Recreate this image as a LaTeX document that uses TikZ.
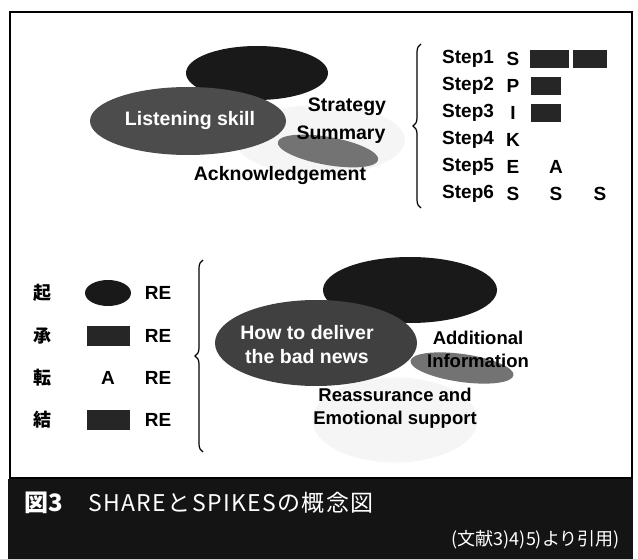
\documentclass[tikz,border=0pt]{standalone}
\usepackage{fontspec}
\setmainfont{Liberation Sans}
\newfontfamily\cjk{Noto Sans CJK JP}
\newfontfamily\cjkwide{Noto Sans CJK JP}[LetterSpace=6]
\usepackage{tikz}
\usetikzlibrary{shapes.geometric, positioning, decorations.pathreplacing}
\tikzset{
  % Blob styles
  blob/.style={ellipse, draw=none, fill=#1, inner sep=0pt},
  blob/.default={black!90},
  haze/.style={ellipse, draw=none, fill=black!4, inner sep=0pt},
  % Text styles
  lbl/.style={font=\fontsize{19.5}{21}\selectfont\bfseries, inner sep=0pt},
  lowlbl/.style={font=\fontsize{18.5}{23}\selectfont\bfseries, inner sep=0pt, align=center},
  steptxt/.style={font=\fontsize{19}{20}\selectfont\bfseries, inner sep=0pt},
  kanji/.style={font=\cjk\bfseries\fontsize{18}{20}\selectfont, inner sep=0pt},
  darkbox/.style={rectangle, fill=black!85, minimum width=#1, minimum height=18pt, inner sep=0pt},
  darkbox/.default={30pt},
  bracket/.style={decorate, decoration={brace, amplitude=8pt}, line width=1.2pt},
}

\begin{document}
\begin{tikzpicture}[x=1pt, y=-1pt]
  \useasboundingbox (0,0) rectangle (638,559);

  % Frame and caption band
  \draw[line width=1.5pt] (10,12) rectangle (632,478);
  \fill[black!92] (8,479) rectangle (633,559);
  \node[font=\cjk\bfseries\fontsize{24}{26}\selectfont, text=white, inner sep=0pt] (fig) at (44,503) {図3};
  \node[font=\cjkwide\fontsize{23}{25}\selectfont, text=white, inner sep=0pt, anchor=west] (title) at (88,503) {SHAREとSPIKESの概念図};
  \node[font=\cjk\fontsize{18}{20}\selectfont, text=white, inner sep=0pt, anchor=east] (src) at (620,540) {(文献3)4)5)より引用)};

  % SPIKES blobs
  \node[blob, minimum width=142pt, minimum height=54pt] (setting) at (257,73) {};
  \node[haze, minimum width=170pt, minimum height=70pt] (hazeA) at (320,140) {};
  \node[blob=black!70, minimum width=196pt, minimum height=68pt] (listen) at (188,121) {};
  \node[blob=black!55, minimum width=102pt, minimum height=28pt, rotate=-10] (summ) at (328,151) {};
  \node[lbl, text=white] (listentxt) at (190,121) {Listening skill};
  \node[lbl] (strategy) at (347,107) {Strategy};
  \node[lbl] (summary) at (341,135) {Summary};
  \node[lbl] (ack) at (280,176) {Acknowledgement};

  % SPIKES steps
  \coordinate (bt) at (421,44);
  \coordinate (bb) at (421,208);
  \draw[bracket] (bb) -- (bt);
  \node[steptxt, anchor=west] (st1) at (442,59) {Step1};
  \node[steptxt, anchor=west] (st2) at (442,86) {Step2};
  \node[steptxt, anchor=west] (st3) at (442,113) {Step3};
  \node[steptxt, anchor=west] (st4) at (442,140) {Step4};
  \node[steptxt, anchor=west] (st5) at (442,167) {Step5};
  \node[steptxt, anchor=west] (st6) at (442,194) {Step6};
  \node[steptxt] (l1) at (513,59) {S};
  \node[steptxt] (l2) at (513,86) {P};
  \node[steptxt] (l3) at (513,113) {I};
  \node[steptxt] (l4) at (513,140) {K};
  \node[steptxt] (l5) at (513,167) {E};
  \node[steptxt] (l6) at (513,194) {S};
  \node[darkbox=39pt] (b1a) at (549,59) {};
  \node[darkbox=34pt] (b1b) at (590,59) {};
  \node[darkbox] (b2) at (546,86) {};
  \node[darkbox] (b3) at (546,113) {};
  \node[steptxt] (a5) at (556,167) {A};
  \node[steptxt] (s6b) at (556,194) {S};
  \node[steptxt] (s6c) at (600,194) {S};

  % SHARE rows
  \node[kanji] (ki) at (42,293) {起};
  \node[kanji] (sho) at (42,336) {承};
  \node[kanji] (ten) at (42,378) {転};
  \node[kanji] (ketsu) at (42,420) {結};
  \node[blob, minimum width=46pt, minimum height=26pt] (m1) at (108,293) {};
  \node[darkbox=43pt, minimum height=20pt] (m2) at (108,336) {};
  \node[steptxt] (m3) at (108,378) {A};
  \node[darkbox=43pt, minimum height=20pt] (m4) at (108,420) {};
  \node[steptxt] (re1) at (158,293) {RE};
  \node[steptxt] (re2) at (158,336) {RE};
  \node[steptxt] (re3) at (158,378) {RE};
  \node[steptxt] (re4) at (158,420) {RE};
  \coordinate (ct) at (203,260);
  \coordinate (cb) at (203,452);
  \draw[bracket] (cb) -- (ct);

  % SHARE blobs
  \node[blob, minimum width=174pt, minimum height=66pt] (place) at (410,290) {};
  \node[haze, minimum width=165pt, minimum height=85pt] (hazeB) at (395,420) {};
  \node[blob=black!55, minimum width=104pt, minimum height=28pt, rotate=-8] (addinfo) at (462,368) {};
  \node[blob=black!75, minimum width=202pt, minimum height=86pt] (deliver) at (316,343) {};
  \node[lbl, text=white, align=center, font=\fontsize{19.5}{24}\selectfont\bfseries] (delivertxt) at (307,345) {How to deliver\\the bad news};
  \node[lowlbl] (addtxt) at (478,349) {Additional\\Information};
  \node[lowlbl] (reasstxt) at (395,408) {Reassurance and\\Emotional support};
\end{tikzpicture}
\end{document}
